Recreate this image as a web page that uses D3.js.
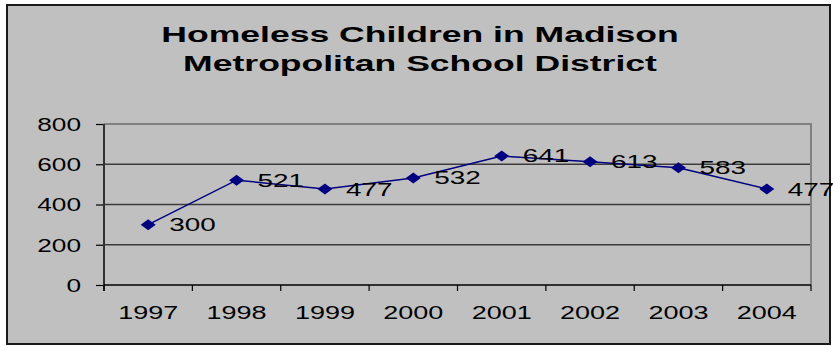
<!DOCTYPE html>
<html>
<head>
<meta charset="utf-8">
<script src="https://cdn.jsdelivr.net/npm/d3@7"></script>
<style>
  body { margin: 0; background: #fff; }
  svg text { font-family: "Liberation Sans", Arial, sans-serif; fill: #000; }
</style>
</head>
<body>
<svg id="chart"></svg>
<script>
const years = ["1997", "1998", "1999", "2000", "2001", "2002", "2003", "2004"];
const counts = [300, 521, 477, 532, 641, 613, 583, 477];
const yTicks = [0, 200, 400, 600, 800];
const titleLines = ["Homeless Children in Madison", "Metropolitan School District"];

const W = 833, H = 346;
const margin = { top: 124, right: 22, bottom: 61, left: 104 };
const stretch = 1.55; // the original text is drawn wide

const svg = d3.select("#chart").attr("width", W).attr("height", H);

// outer chart frame
svg.append("rect")
  .attr("x", 7).attr("y", 5)
  .attr("width", 823).attr("height", 339)
  .attr("fill", "#c0c0c0")
  .attr("stroke", "#1a1a1a")
  .attr("stroke-width", 2);

// title
svg.selectAll(".title")
  .data(titleLines)
  .join("text")
  .attr("class", "title")
  .attr("transform", (d, i) => `translate(420,${42 + i * 29}) scale(1.58,1)`)
  .attr("text-anchor", "middle")
  .style("font-size", "22.5px")
  .style("font-weight", "bold")
  .text(d => d);

const width = W - margin.left - margin.right;
const height = H - margin.top - margin.bottom;

const chart = svg.append("g")
  .attr("transform", `translate(${margin.left},${margin.top})`);

const x = d3.scaleBand().domain(years).range([0, width]).padding(0);
const y = d3.scaleLinear().domain([0, 800]).range([height, 0]);

// gridlines
chart.selectAll(".grid")
  .data(yTicks.filter(d => d > 0 && d < 800))
  .join("line")
  .attr("class", "grid")
  .attr("x1", 0).attr("x2", width)
  .attr("y1", d => y(d)).attr("y2", d => y(d))
  .attr("stroke", "#3c3c3c")
  .attr("stroke-width", 1.5);

// plot area border (top and right)
chart.append("path")
  .attr("d", `M0,${y(800)}H${width}V${height}`)
  .attr("fill", "none")
  .attr("stroke", "#808080")
  .attr("stroke-width", 2);

// y axis
const yAxis = d3.axisLeft(y).tickValues(yTicks).tickSize(8).tickPadding(0);
const yAxisG = chart.append("g").call(yAxis);
yAxisG.select(".domain").remove();
yAxisG.selectAll(".tick line").attr("stroke", "#000").attr("stroke-width", 1.2);
yAxisG.selectAll(".tick text")
  .attr("x", 0)
  .attr("dy", "0.36em")
  .attr("transform", `translate(-23,0) scale(1.5,1)`)
  .style("font-size", "17.5px");
chart.append("line")
  .attr("x1", 0).attr("x2", 0)
  .attr("y1", 0).attr("y2", height + 6)
  .attr("stroke", "#303030")
  .attr("stroke-width", 2);

// x axis
const xAxis = d3.axisBottom(x).tickSize(0).tickPadding(0);
const xAxisG = chart.append("g")
  .attr("transform", `translate(0,${height})`)
  .call(xAxis);
xAxisG.select(".domain").remove();
xAxisG.selectAll(".tick text")
  .attr("y", 34)
  .attr("dy", 0)
  .attr("transform", `scale(1.42,1)`)
  .style("font-size", "19px");
xAxisG.append("line")
  .attr("x1", 0).attr("x2", width)
  .attr("stroke", "#000").attr("stroke-width", 1.5);
xAxisG.selectAll(".bound")
  .data(years.map(d => x(d)).concat([width]))
  .join("line")
  .attr("class", "bound")
  .attr("x1", d => d).attr("x2", d => d)
  .attr("y1", 0).attr("y2", 6)
  .attr("stroke", "#000").attr("stroke-width", 1.2);

// series
const pts = years.map((yr, i) => ({ year: yr, value: counts[i] }));
const cx = d => x(d.year) + x.bandwidth() / 2;

chart.append("path")
  .datum(pts)
  .attr("fill", "none")
  .attr("stroke", "#000080")
  .attr("stroke-width", 1.5)
  .attr("d", d3.line().x(cx).y(d => y(d.value)));

chart.selectAll(".point")
  .data(pts)
  .join("path")
  .attr("class", "point")
  .attr("d", d => {
    const px = cx(d), py = y(d.value);
    return `M${px - 7.5},${py}L${px},${py - 5.5}L${px + 7.5},${py}L${px},${py + 5.5}Z`;
  })
  .attr("fill", "#000080");

chart.selectAll(".label")
  .data(pts)
  .join("text")
  .attr("class", "label")
  .attr("transform", d => `translate(${cx(d) + 21},${y(d.value) + 6.5}) scale(${stretch},1)`)
  .style("font-size", "18px")
  .text(d => d.value);
</script>
</body>
</html>
